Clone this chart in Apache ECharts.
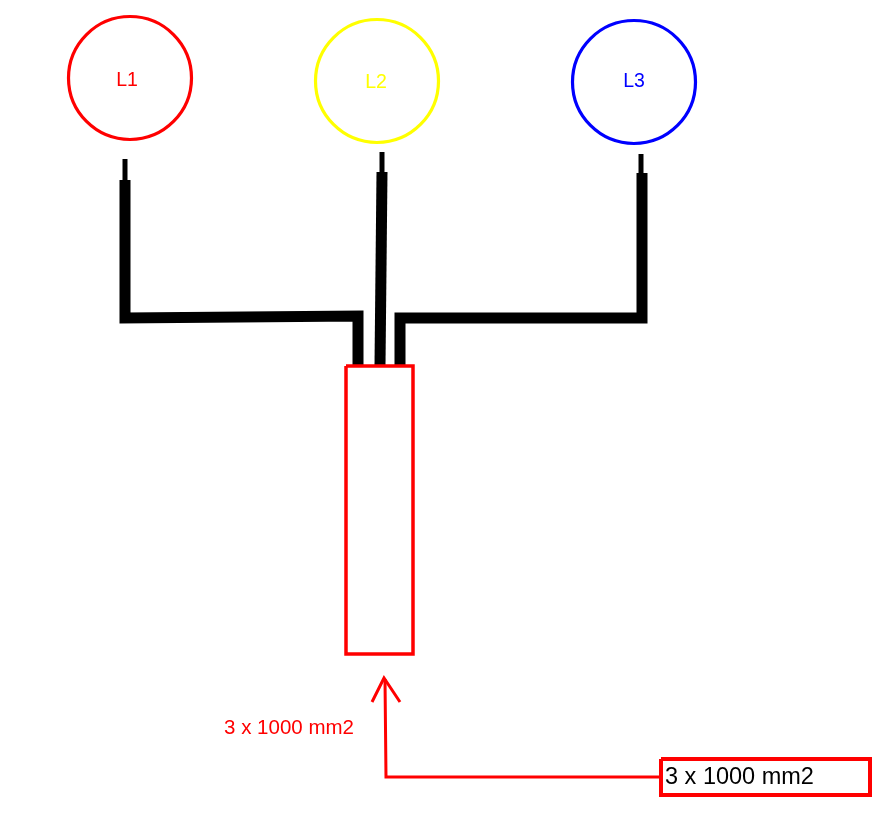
<!DOCTYPE html>
<html>
<head>
<meta charset="utf-8">
<script src="https://cdn.jsdelivr.net/npm/echarts@6/dist/echarts.min.js"></script>
<style>
html,body{margin:0;padding:0;background:#fff;}
#main{width:892px;height:836px;}
</style>
</head>
<body>
<div id="main"></div>
<script>
// Phase conductors
const phases = ['L1', 'L2', 'L3'];
const phaseX = [130, 377, 634];
const phaseY = [78, 81, 82];
const phaseLabelX = [127, 376, 634];
const phaseLabelY = [81, 83, 82];
const phaseColors = ['#ff0000', '#ffff00', '#0000ff'];

// Wire paths (thin lead + thick conductor) for each phase, as [x, y] points
const leadL1 = [[125, 159], [125, 180]];
const leadL2 = [[382, 152], [382, 172]];
const leadL3 = [[641, 154], [641, 173]];
const wireL1 = [[125, 180], [125, 318], [358, 316], [358, 365]];
const wireL2 = [[382, 172], [380, 365]];
const wireL3 = [[642, 173], [642, 318], [400, 318], [400, 365]];

// Cable block
const cableRect = [[346, 366], [413, 366], [413, 654], [346, 654], [346, 366]];

// Annotation arrow and callout
const arrowHead = [[372, 702], [384, 678], [400, 702]];
const arrowShaft = [[385, 679], [386, 777], [661, 777]];
const calloutBox = [[661, 759], [870, 759], [870, 795], [661, 795], [661, 759]];
const cableLabel = '3 x 1000 mm2';
const sideLabelPos = [289, 728];
const boxLabelPos = [665, 778];

const chart = echarts.init(document.getElementById('main'));

function pathSeries(data, color, width) {
  return {
    type: 'line',
    data: data,
    symbol: 'none',
    silent: true,
    animation: false,
    lineStyle: { color: color, width: width, cap: 'butt', join: 'miter', opacity: 1 },
    z: 2
  };
}

const series = [];
[leadL1, leadL2, leadL3].forEach(p => series.push(pathSeries(p, '#000', 5)));
[wireL1, wireL2, wireL3].forEach(p => series.push(pathSeries(p, '#000', 11)));
series.push(pathSeries(cableRect, '#ff0000', 3.5));
series.push(pathSeries(arrowHead, '#ff0000', 3));
series.push(pathSeries(arrowShaft, '#ff0000', 3));
series.push(pathSeries(calloutBox, '#ff0000', 4));

// Phase circles
series.push({
  type: 'scatter',
  silent: true,
  animation: false,
  symbol: 'circle',
  symbolSize: 123,
  data: phases.map((name, i) => ({
    value: [phaseX[i], phaseY[i]],
    itemStyle: { color: 'rgba(255,255,255,0)', borderColor: phaseColors[i], borderWidth: 3.2, opacity: 1 }
  })),
  z: 3
});

// Phase labels
series.push({
  type: 'scatter',
  silent: true,
  animation: false,
  symbolSize: 0,
  itemStyle: { opacity: 1 },
  data: phases.map((name, i) => ({
    value: [phaseLabelX[i], phaseLabelY[i]],
    label: { color: phaseColors[i] }
  })),
  label: {
    show: true,
    position: 'inside',
    formatter: p => phases[p.dataIndex],
    fontFamily: 'Liberation Sans',
    fontSize: 19.5
  },
  z: 4
});

series.push({
  type: 'scatter',
  silent: true,
  animation: false,
  symbolSize: 0,
  itemStyle: { opacity: 1 },
  data: [sideLabelPos],
  label: {
    show: true,
    position: 'inside',
    formatter: cableLabel,
    color: '#ff0000',
    fontFamily: 'Liberation Sans',
    fontSize: 20.5
  },
  z: 4
});

series.push({
  type: 'scatter',
  silent: true,
  animation: false,
  symbolSize: 0,
  itemStyle: { opacity: 1 },
  data: [boxLabelPos],
  label: {
    show: true,
    position: 'inside',
    align: 'left',
    formatter: cableLabel,
    color: '#000000',
    fontFamily: 'Liberation Sans',
    fontSize: 23.5
  },
  z: 4
});

chart.setOption({
  backgroundColor: '#ffffff',
  animation: false,
  grid: { left: 0, right: 0, top: 0, bottom: 0 },
  xAxis: { type: 'value', min: 0, max: 892, show: false },
  yAxis: { type: 'value', min: 0, max: 836, inverse: true, show: false },
  series: series
});
</script>
</body>
</html>
